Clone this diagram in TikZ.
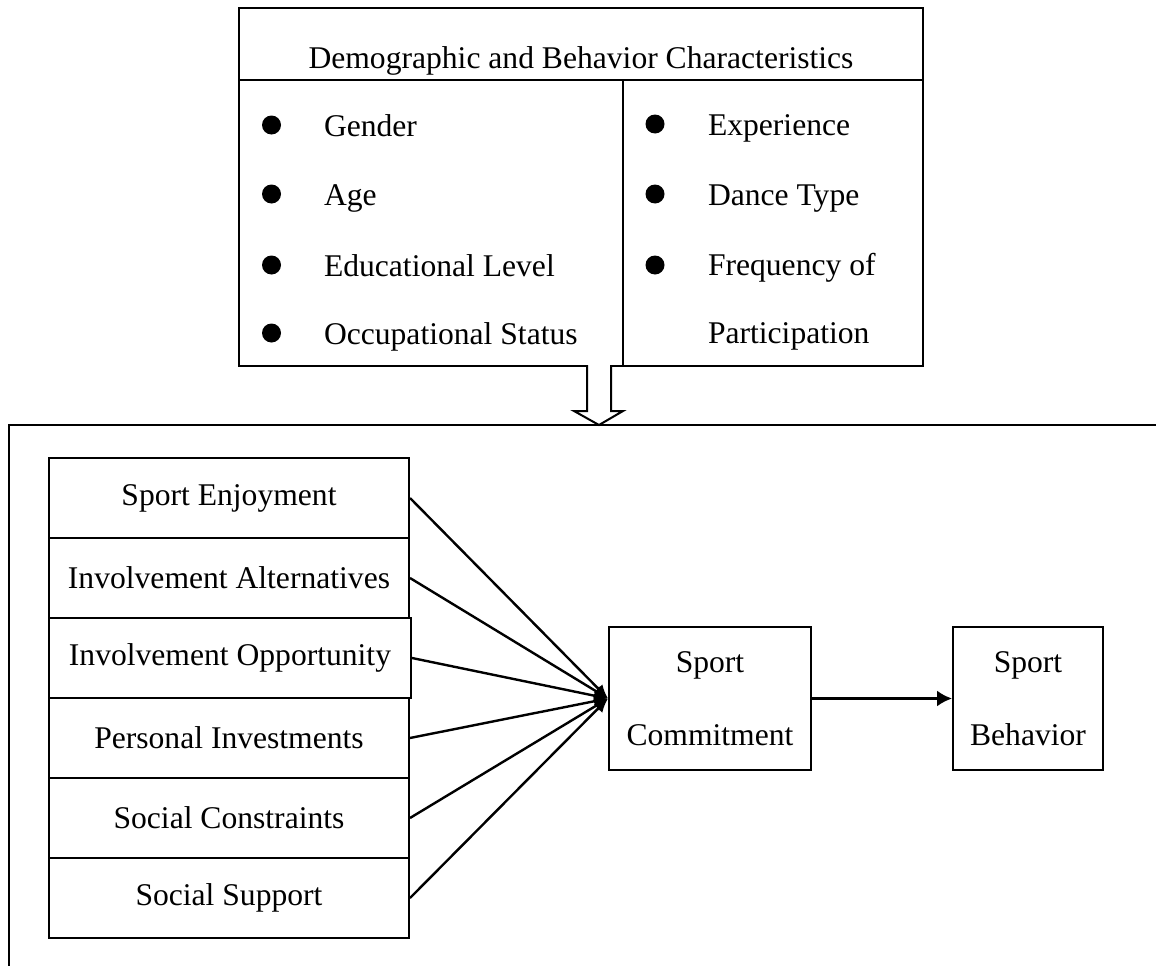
\documentclass[tikz,border=0pt]{standalone}
\usepackage{fontspec}
\setmainfont{Liberation Serif}
\usetikzlibrary{arrows.meta,calc}
\begin{document}
\begin{tikzpicture}[x=1pt,y=-1pt,line width=2pt,
  txt/.style={font=\fontsize{31.6}{73}\selectfont,inner sep=0pt},
  bul/.style={circle,fill=black,draw=none,minimum size=19pt,inner sep=0pt},
  cell/.style={draw,rectangle,inner sep=0pt,align=center,
    font=\fontsize{31.6}{73}\selectfont},
  factor/.style={cell,anchor=north west,minimum width=360pt,minimum height=80pt},
  link/.style={line width=2.4pt,-{Latex[length=14pt,width=12pt]}},
  mainlink/.style={line width=2.4pt,-{Latex[length=15pt,width=16pt]}}]
\useasboundingbox (0,0) rectangle (1156,966);
\clip (0,0) rectangle (1156,966);

% outer frame (runs past the page on the right and at the bottom)
\coordinate (frame) at (9,425);
\draw (9,1000) -- (frame) -- (1200,425);

% characteristics table
\node[draw,anchor=north west,minimum width=684pt,minimum height=358pt,inner sep=0pt] (demo) at (238,7) {};
\coordinate (headline) at (0,80);
\coordinate (split) at (623,0);
\draw (demo.west |- headline) -- (demo.east |- headline);
\draw (split |- headline) -- (split |- demo.south);
\node[txt,anchor=base] (title) at (demo.north |- 0,69) {Demographic and Behavior Characteristics};

\node[bul] (b1) at (271.5,125) {};
\node[bul] (b2) at (271.5,194) {};
\node[bul] (b3) at (271.5,265) {};
\node[bul] (b4) at (271.5,333) {};
\node[txt,anchor=base west] (t1) at (323,136) {Gender};
\node[txt,anchor=base west] (t2) at (323,205) {Age};
\node[txt,anchor=base west] (t3) at (323,276) {Educational Level};
\node[txt,anchor=base west] (t4) at (323,344) {Occupational Status};

\node[bul] (b5) at (655,124) {};
\node[bul] (b6) at (655,194) {};
\node[bul] (b7) at (655,265) {};
\node[txt,anchor=base west] (t5) at (707,135) {Experience};
\node[txt,anchor=base west] (t6) at (707,205) {Dance Type};
\node[txt,anchor=base west] (t7) at (707,275) {Frequency of};
\node[txt,anchor=base west] (t8) at (707,343) {Participation};

% hollow block arrow down into the model
\draw[fill=white,line join=miter] (587,365) -- (587,411) -- (574,411) -- (599,425)
  -- (623,411) -- (611,411) -- (611,365);

% factors
\node[factor] (f1) at (48,457) {Sport Enjoyment};
\node[factor] (f2) at (48,537) {Involvement Alternatives};
\node[factor,minimum width=362pt] (f3) at (48,617) {Involvement Opportunity};
\node[factor] (f4) at (48,697) {Personal Investments};
\node[factor] (f5) at (48,777) {Social Constraints};
\node[factor] (f6) at (48,857) {Social Support};

% outcomes
\node[cell,minimum width=202pt,minimum height=143pt] (cm) at (710,698.5) {Sport\\Commitment};
\node[cell,minimum width=150pt,minimum height=143pt] (sb) at (1028,698.5) {Sport\\Behavior};

\foreach \f in {f1,f2,f3,f4,f5,f6}
  \draw[link] (\f.east) -- (cm.west);
\draw[mainlink] (cm.east) -- (sb.west);
\end{tikzpicture}
\end{document}
